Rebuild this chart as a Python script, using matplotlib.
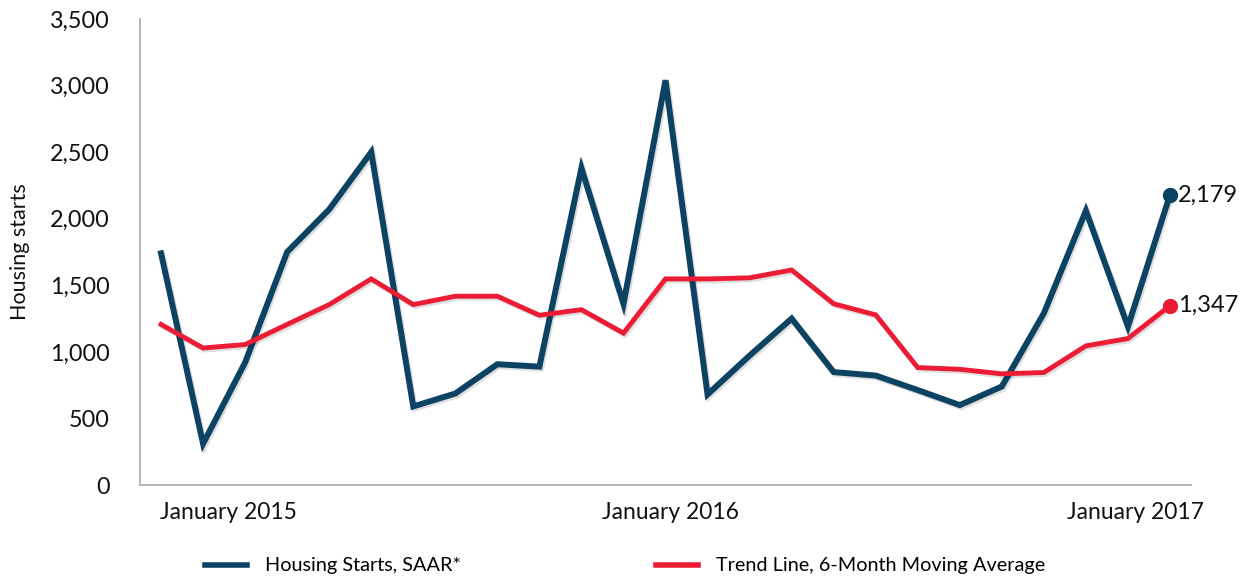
import matplotlib
matplotlib.use("Agg")
import matplotlib.pyplot as plt
import matplotlib.patheffects as pe
from matplotlib.lines import Line2D

plt.rcParams['font.family'] = ['Lato', 'DejaVu Sans']

# Data (monthly, 25 points)
housing_starts = [1740, 310, 920, 1750, 2070, 2500, 590, 687, 907, 889, 2380,
                  1360, 3040, 680, 972, 1250, 848, 822, 713, 600, 740,
                  1290, 2060, 1190, 2179]
trend_6m = [1206, 1029, 1055, 1206, 1355, 1548, 1355, 1418, 1418, 1275, 1317,
            1141, 1548, 1548, 1556, 1615, 1361, 1278, 882, 869, 835,
            845, 1045, 1100, 1347]
xtick_pos = [1.6, 12.12, 23.17]
xtick_labels = ["January 2015", "January 2016", "January 2017"]
yticks = [0, 500, 1000, 1500, 2000, 2500, 3000, 3500]
series_names = ["Housing Starts, SAAR*", "Trend Line, 6-Month Moving Average"]

blue = '#0c4262'
red = '#ec1c34'
spine_gray = '#b0b0b0'

fig = plt.figure(figsize=(12.52, 5.82), dpi=100)
ax = fig.add_axes([140/1252, (582-485)/582, (1191-140)/1252, (485-19)/582])

x = list(range(len(housing_starts)))
shadow = [pe.SimpleLineShadow(offset=(1.2, -1.5), alpha=0.13, shadow_color='black'), pe.Normal()]
ax.plot(x, housing_starts, color=blue, lw=4.3, solid_joinstyle='miter', path_effects=shadow, zorder=3)
ax.plot(x, trend_6m, color=red, lw=3.5, solid_joinstyle='miter', path_effects=shadow, zorder=4)

ax.plot([x[-1]], [housing_starts[-1]], 'o', color=blue, ms=10, zorder=5)
ax.plot([x[-1]], [trend_6m[-1]], 'o', color=red, ms=10, zorder=5)
ax.annotate(f"{housing_starts[-1]:,}", (x[-1], housing_starts[-1]), xytext=(6, 0),
            textcoords='offset points', ha='left', va='center', fontsize=17, color='#111111')
ax.annotate(f"{trend_6m[-1]:,}", (x[-1], trend_6m[-1]), xytext=(6, 0),
            textcoords='offset points', ha='left', va='center', fontsize=17, color='#111111')

ax.set_xlim(-0.5, len(x) - 0.5)
ax.set_ylim(0, 3500)
ax.set_yticks(yticks)
ax.set_yticklabels([f"{v:,}" for v in yticks], fontsize=16.8, color='#111111')
ax.set_xticks(xtick_pos)
ax.set_xticklabels(xtick_labels, fontsize=16.5, color='#111111')
ax.tick_params(axis='both', length=0)
ax.tick_params(axis='y', pad=22)
ax.tick_params(axis='x', pad=12)
ax.set_ylabel("Housing starts", fontsize=15.5, color='#111111', labelpad=14)

for s in ['top', 'right']:
    ax.spines[s].set_visible(False)
for s in ['left', 'bottom']:
    ax.spines[s].set_color(spine_gray)
    ax.spines[s].set_linewidth(1.3)

handles = [Line2D([], [], color=blue, lw=4), Line2D([], [], color=red, lw=4)]
fig.legend(handles, series_names, loc='center left', bbox_to_anchor=(205/1252, (582-566)/582),
           ncol=2, frameon=False, fontsize=14.3, handlelength=2.1, handletextpad=0.9,
           columnspacing=9.85, borderaxespad=0, borderpad=0)

fig.savefig("out.png", dpi=100, facecolor='white')
